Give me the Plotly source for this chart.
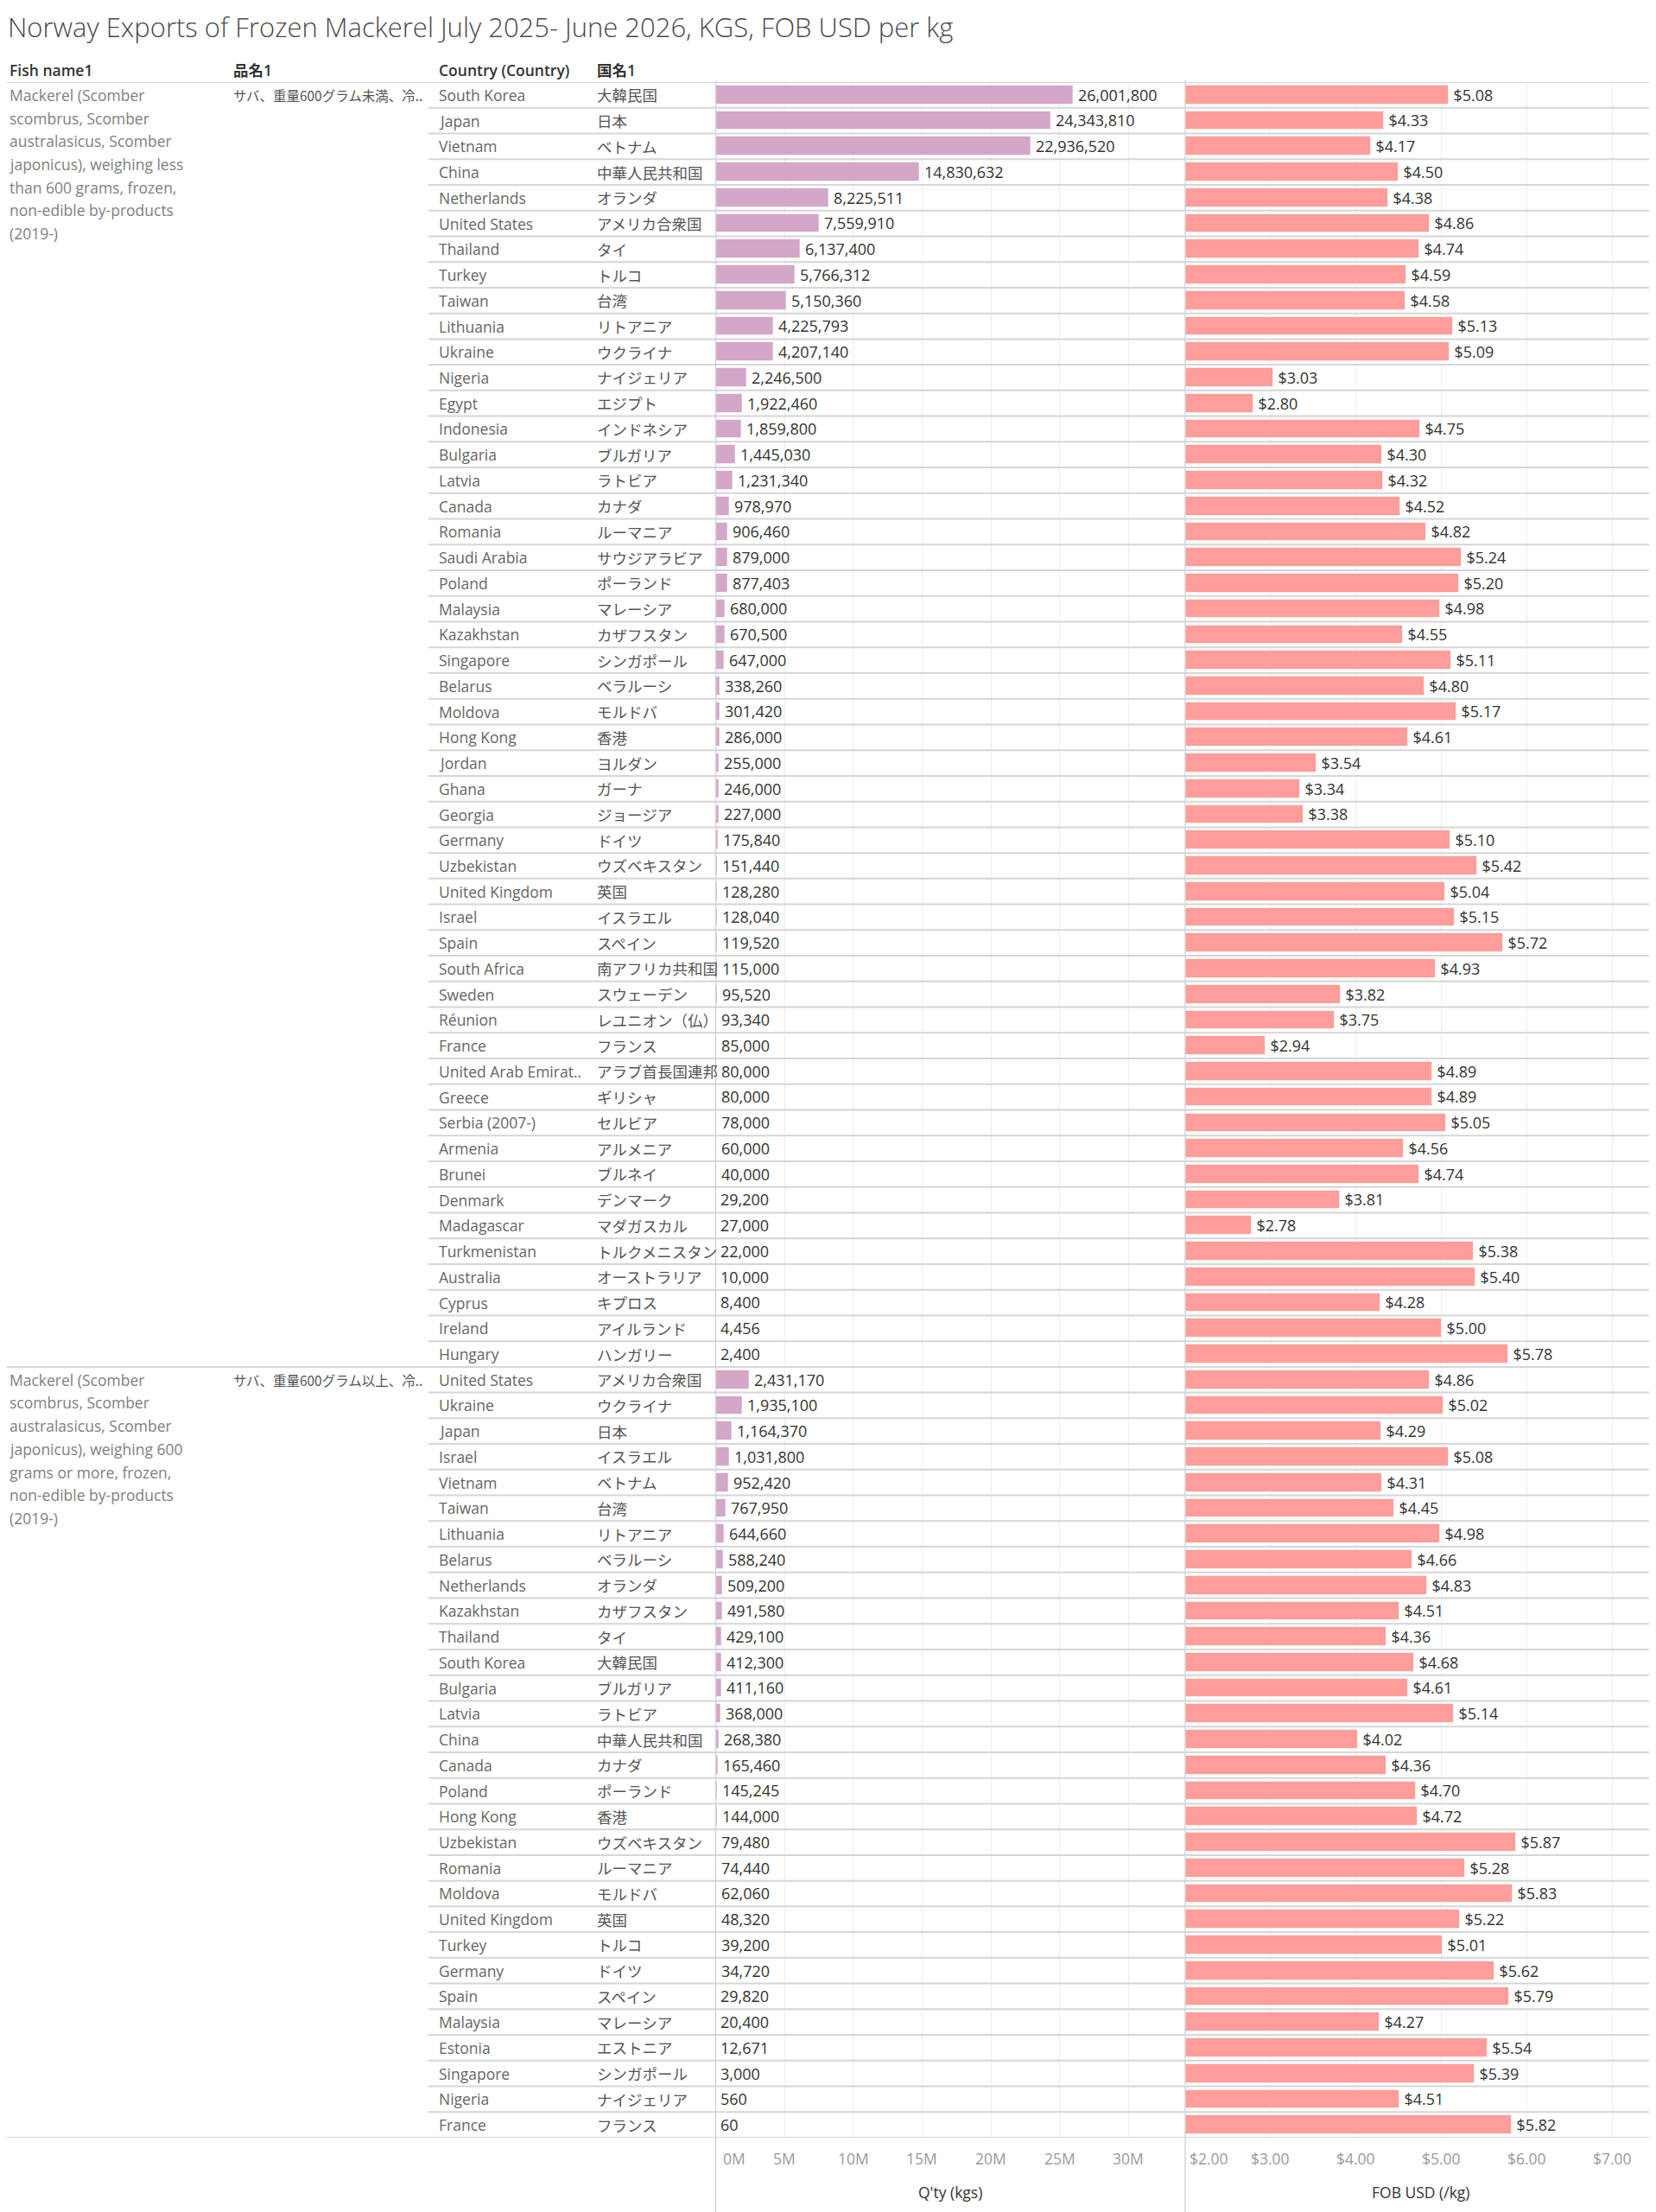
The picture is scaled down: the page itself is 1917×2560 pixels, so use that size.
import plotly.graph_objects as go

W, H = 1917, 2560

# ---- data ----
fish_names = [
    ["Mackerel (Scomber", "scombrus, Scomber", "australasicus, Scomber",
     "japonicus), weighing less", "than 600 grams, frozen,",
     "non-edible by-products", "(2019-)"],
    ["Mackerel (Scomber", "scombrus, Scomber", "australasicus, Scomber",
     "japonicus), weighing 600", "grams or more, frozen,",
     "non-edible by-products", "(2019-)"],
]
item_jp = ["サバ、重量600グラム未満、冷..", "サバ、重量600グラム以上、冷.."]

countries_small = [
    "South Korea", "Japan", "Vietnam", "China", "Netherlands", "United States",
    "Thailand", "Turkey", "Taiwan", "Lithuania", "Ukraine", "Nigeria", "Egypt",
    "Indonesia", "Bulgaria", "Latvia", "Canada", "Romania", "Saudi Arabia",
    "Poland", "Malaysia", "Kazakhstan", "Singapore", "Belarus", "Moldova",
    "Hong Kong", "Jordan", "Ghana", "Georgia", "Germany", "Uzbekistan",
    "United Kingdom", "Israel", "Spain", "South Africa", "Sweden", "Réunion",
    "France", "United Arab Emirat..", "Greece", "Serbia (2007-)", "Armenia",
    "Brunei", "Denmark", "Madagascar", "Turkmenistan", "Australia", "Cyprus",
    "Ireland", "Hungary",
]
countries_small_jp = [
    "大韓民国", "日本", "ベトナム", "中華人民共和国", "オランダ", "アメリカ合衆国",
    "タイ", "トルコ", "台湾", "リトアニア", "ウクライナ", "ナイジェリア", "エジプト",
    "インドネシア", "ブルガリア", "ラトビア", "カナダ", "ルーマニア", "サウジアラビア",
    "ポーランド", "マレーシア", "カザフスタン", "シンガポール", "ベラルーシ", "モルドバ",
    "香港", "ヨルダン", "ガーナ", "ジョージア", "ドイツ", "ウズベキスタン",
    "英国", "イスラエル", "スペイン", "南アフリカ共和国", "スウェーデン", "レユニオン（仏）",
    "フランス", "アラブ首長国連邦", "ギリシャ", "セルビア", "アルメニア",
    "ブルネイ", "デンマーク", "マダガスカル", "トルクメニスタン", "オーストラリア", "キプロス",
    "アイルランド", "ハンガリー",
]
qty_small = [
    26001800, 24343810, 22936520, 14830632, 8225511, 7559910,
    6137400, 5766312, 5150360, 4225793, 4207140, 2246500, 1922460,
    1859800, 1445030, 1231340, 978970, 906460, 879000,
    877403, 680000, 670500, 647000, 338260, 301420,
    286000, 255000, 246000, 227000, 175840, 151440,
    128280, 128040, 119520, 115000, 95520, 93340,
    85000, 80000, 80000, 78000, 60000,
    40000, 29200, 27000, 22000, 10000, 8400,
    4456, 2400,
]
fob_small = [
    5.08, 4.33, 4.17, 4.50, 4.38, 4.86,
    4.74, 4.59, 4.58, 5.13, 5.09, 3.03, 2.80,
    4.75, 4.30, 4.32, 4.52, 4.82, 5.24,
    5.20, 4.98, 4.55, 5.11, 4.80, 5.17,
    4.61, 3.54, 3.34, 3.38, 5.10, 5.42,
    5.04, 5.15, 5.72, 4.93, 3.82, 3.75,
    2.94, 4.89, 4.89, 5.05, 4.56,
    4.74, 3.81, 2.78, 5.38, 5.40, 4.28,
    5.00, 5.78,
]

countries_large = [
    "United States", "Ukraine", "Japan", "Israel", "Vietnam", "Taiwan",
    "Lithuania", "Belarus", "Netherlands", "Kazakhstan", "Thailand",
    "South Korea", "Bulgaria", "Latvia", "China", "Canada", "Poland",
    "Hong Kong", "Uzbekistan", "Romania", "Moldova", "United Kingdom",
    "Turkey", "Germany", "Spain", "Malaysia", "Estonia", "Singapore",
    "Nigeria", "France",
]
countries_large_jp = [
    "アメリカ合衆国", "ウクライナ", "日本", "イスラエル", "ベトナム", "台湾",
    "リトアニア", "ベラルーシ", "オランダ", "カザフスタン", "タイ",
    "大韓民国", "ブルガリア", "ラトビア", "中華人民共和国", "カナダ", "ポーランド",
    "香港", "ウズベキスタン", "ルーマニア", "モルドバ", "英国",
    "トルコ", "ドイツ", "スペイン", "マレーシア", "エストニア", "シンガポール",
    "ナイジェリア", "フランス",
]
qty_large = [
    2431170, 1935100, 1164370, 1031800, 952420, 767950,
    644660, 588240, 509200, 491580, 429100,
    412300, 411160, 368000, 268380, 165460, 145245,
    144000, 79480, 74440, 62060, 48320,
    39200, 34720, 29820, 20400, 12671, 3000,
    560, 60,
]
fob_large = [
    4.86, 5.02, 4.29, 5.08, 4.31, 4.45,
    4.98, 4.66, 4.83, 4.51, 4.36,
    4.68, 4.61, 5.14, 4.02, 4.36, 4.70,
    4.72, 5.87, 5.28, 5.83, 5.22,
    5.01, 5.62, 5.79, 4.27, 5.54, 5.39,
    4.51, 5.82,
]

qty_ticks = [0, 5e6, 10e6, 15e6, 20e6, 25e6, 30e6]
qty_ticktext = ["0M", "5M", "10M", "15M", "20M", "25M", "30M"]
fob_ticks = [2, 3, 4, 5, 6, 7]
fob_ticktext = ["$2.00", "$3.00", "$4.00", "$5.00", "$6.00", "$7.00"]

countries = countries_small + countries_large
countries_jp = countries_small_jp + countries_large_jp
qty = qty_small + qty_large
fob = fob_small + fob_large
rows = list(range(len(countries)))
group_starts = [0, len(countries_small)]

# ---- layout helpers (page pixels -> paper); page body adds an 8px margin ----
OFF = 8
FW, FH = W - OFF, H - OFF

def px(x):
    return (x - OFF) / FW

def py(y):
    return 1 - (y - OFF) / FH

FONT = "'Open Sans', 'Noto Sans CJK JP', sans-serif"
JPFONT = "'Noto Sans CJK JP', 'Open Sans', sans-serif"
ROW_TOP, ROW_BOT = 95, 2474
X_Q0, X_Q1 = 828.5, 1372
SP = "\u2009"

fig = go.Figure()

fig.add_trace(go.Bar(
    y=rows, x=qty, orientation="h", xaxis="x", yaxis="y", width=0.73,
    marker=dict(color="#D4A6C8", line=dict(color="rgba(255,255,255,0.6)", width=1)),
    texttemplate=SP + "%{x:,.0f}", textposition="outside", constraintext="none",
    textfont=dict(family=FONT, size=18, color="#333333"),
    hoverinfo="skip",
))
fig.add_trace(go.Bar(
    y=rows, x=fob, orientation="h", xaxis="x2", yaxis="y", width=0.73,
    marker=dict(color="#FF9D9A", line=dict(color="rgba(255,255,255,0.6)", width=1)),
    texttemplate=SP + "$%{x:.2f}", textposition="outside", constraintext="none",
    textfont=dict(family=FONT, size=18, color="#333333"),
    hoverinfo="skip",
))

ann = []
# title
ann.append(dict(text="Norway Exports of Frozen Mackerel July 2025- June 2026, KGS, FOB USD per kg",
                x=px(7), y=py(31), xref="paper", yref="paper", xanchor="left", yanchor="middle",
                showarrow=False, font=dict(family=FONT, size=31, color="#4a4a4a", weight=300)))
# headers
for label, hx in [("Fish name1", 9), ("品名1", 268), ("Country (Country)", 506), ("国名1", 689)]:
    ann.append(dict(text=label, x=px(hx), y=py(81), xref="paper", yref="paper",
                    xanchor="left", yanchor="middle", showarrow=False,
                    font=dict(family=FONT, size=17.5, color="#333333", weight=600)))
# fish name blocks
for g, start in enumerate(group_starts):
    for k, line in enumerate(fish_names[g]):
        ann.append(dict(text=line, x=px(9), y=start + k * 0.898, xref="paper", yref="y",
                        xanchor="left", yanchor="middle", showarrow=False,
                        font=dict(family=FONT, size=17.5, color="#808080")))
    ann.append(dict(text=item_jp[g], x=px(268), y=start, xref="paper", yref="y",
                    xanchor="left", yanchor="middle", showarrow=False,
                    font=dict(family=JPFONT, size=15.5, color="#555555")))
# country columns
for i in rows:
    ann.append(dict(text=countries[i], x=px(506), y=i, xref="paper", yref="y",
                    xanchor="left", yanchor="middle", showarrow=False,
                    font=dict(family=FONT, size=17.5, color="#666666")))
    ann.append(dict(text=countries_jp[i], x=px(689), y=i, xref="paper", yref="y",
                    xanchor="left", yanchor="middle", showarrow=False,
                    font=dict(family=JPFONT, size=17.5, color="#555555")))
# tick labels
for j, (v, t) in enumerate(zip(qty_ticks, qty_ticktext)):
    ann.append(dict(text=t, x=v, y=py(2498), xref="x", yref="paper",
                    xanchor="left" if j == 0 else "center", xshift=6 if j == 0 else 0,
                    yanchor="middle", showarrow=False,
                    font=dict(family=FONT, size=17.5, color="#9a9a9a")))
for j, (v, t) in enumerate(zip(fob_ticks, fob_ticktext)):
    ann.append(dict(text=t, x=v, y=py(2498), xref="x2", yref="paper",
                    xanchor="left" if j == 0 else "center", xshift=3 if j == 0 else 0,
                    yanchor="middle", showarrow=False,
                    font=dict(family=FONT, size=17.5, color="#9a9a9a")))
# axis titles
ann.append(dict(text="Q'ty (kgs)", x=px((X_Q0 + X_Q1) / 2), y=py(2537), xref="paper", yref="paper",
                xanchor="center", yanchor="middle", showarrow=False,
                font=dict(family=FONT, size=17.5, color="#333333")))
ann.append(dict(text="FOB USD (/kg)", x=px((X_Q1 + W) / 2), y=py(2537), xref="paper", yref="paper",
                xanchor="center", yanchor="middle", showarrow=False,
                font=dict(family=FONT, size=17.5, color="#333333")))

shapes = []
# row separators
for i in rows[:-1]:
    full = (i + 1) in group_starts
    shapes.append(dict(type="line", xref="paper", yref="y", x0=0 if full else px(496), x1=1,
                       y0=i + 0.5, y1=i + 0.5, line=dict(color="#d6d6d6", width=2)))
for yy in [-0.5, len(rows) - 0.5]:
    shapes.append(dict(type="line", xref="paper", yref="y", x0=0, x1=1,
                       y0=yy, y1=yy, line=dict(color="#d6d6d6", width=2)))
# panel dividers
for xx in [X_Q0, X_Q1]:
    shapes.append(dict(type="line", xref="paper", yref="paper", x0=px(xx), x1=px(xx),
                       y0=py(93), y1=0, line=dict(color="#d6d6d6", width=1.5)))

fig.update_layout(
    width=FW, height=FH,
    margin=dict(l=0, r=0, t=0, b=0),
    paper_bgcolor="white", plot_bgcolor="white",
    showlegend=False, bargap=0,
    font=dict(family=FONT),
    xaxis=dict(domain=[px(X_Q0), px(X_Q1)], range=[0, 34.12e6], tickvals=qty_ticks,
               showticklabels=False, showgrid=True, gridcolor="#eeeeee", gridwidth=1,
               zeroline=False, fixedrange=True, anchor="y"),
    xaxis2=dict(domain=[px(X_Q1), 1], range=[2, 7.51], tickvals=fob_ticks,
                showticklabels=False, showgrid=True, gridcolor="#eeeeee", gridwidth=1,
                zeroline=False, fixedrange=True, anchor="y"),
    yaxis=dict(domain=[py(ROW_BOT), py(ROW_TOP)], range=[len(rows) - 0.5, -0.5],
               showticklabels=False, showgrid=False, zeroline=False, fixedrange=True),
    annotations=ann,
    shapes=shapes,
)

fig.write_html("out.html")
